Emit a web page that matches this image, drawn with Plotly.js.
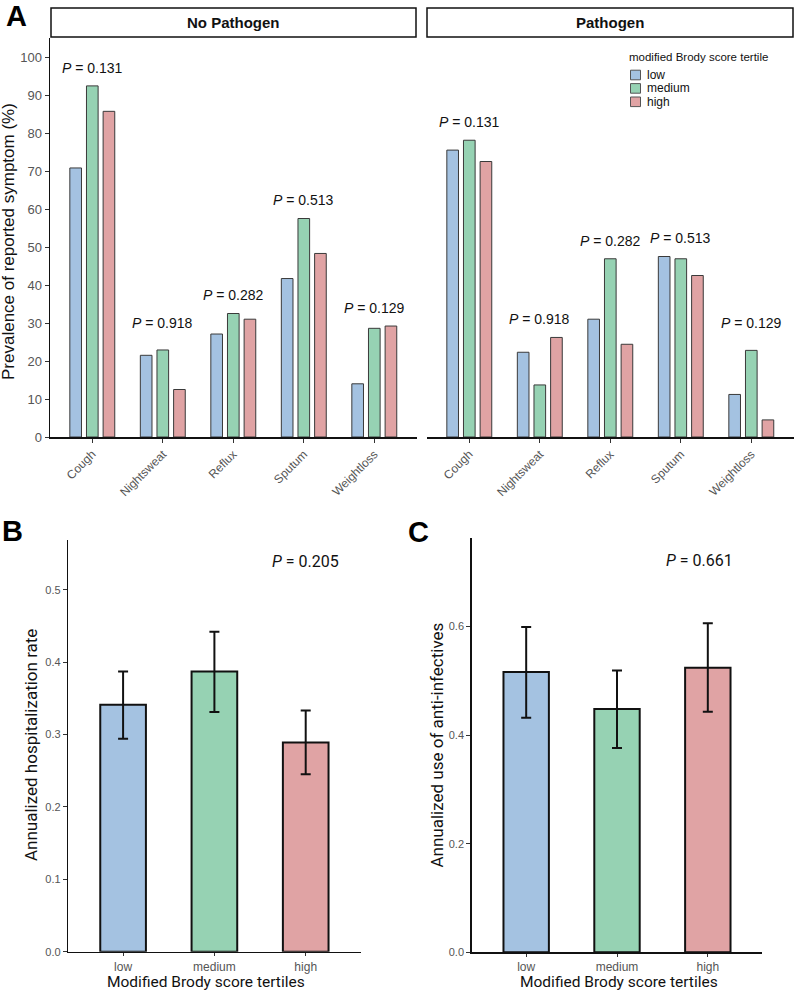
<!DOCTYPE html>
<html>
<head>
<meta charset="utf-8">
<script src="https://cdn.plot.ly/plotly-3.0.1.min.js"></script>
<style>html,body{margin:0;padding:0;background:#fff;}#chart{width:794px;height:992px;}</style>
</head>
<body>
<div id="chart"></div>
<script>
// ---------- data ----------
const symptoms = ['Cough', 'Nightsweat', 'Reflux', 'Sputum', 'Weightloss'];
const tertiles = ['low', 'medium', 'high'];
const facetNames = ['No Pathogen', 'Pathogen'];

const noPathLow    = [70.8, 21.5, 27.1, 41.7, 14.0];
const noPathMedium = [92.4, 22.9, 32.5, 57.5, 28.6];
const noPathHigh   = [85.7, 12.5, 31.0, 48.3, 29.2];

const pathLow    = [75.5, 22.3, 31.0, 47.5, 11.2];
const pathMedium = [78.1, 13.7, 46.9, 46.9, 22.8];
const pathHigh   = [72.5, 26.2, 24.4, 42.5, 4.5];

const symptomP = ['0.131', '0.918', '0.282', '0.513', '0.129'];

const hospRate  = [0.341, 0.387, 0.289];
const hospUpper = [0.387, 0.442, 0.333];
const hospLower = [0.294, 0.331, 0.245];
const hospP = '0.205';

const antiUse   = [0.516, 0.448, 0.524];
const antiUpper = [0.599, 0.519, 0.606];
const antiLower = [0.432, 0.376, 0.443];
const antiP = '0.661';

// ---------- styling ----------
const W = 794, H = 992;
const px = v => v / W;
const py = v => 1 - v / H;
const colors = ['#a4c2e1', '#96d2b3', '#e0a3a4'];
const fontA = 'Liberation Sans, Arial, Helvetica, sans-serif';
const fontR = 'Roboto, Liberation Sans, Arial, sans-serif';
const tickGrey = '#555555';

const noPathSeries = [noPathLow, noPathMedium, noPathHigh];
const pathSeries = [pathLow, pathMedium, pathHigh];

const traces = [];
tertiles.forEach((t, i) => {
  traces.push({type: 'bar', x: symptoms, y: noPathSeries[i], name: t, xaxis: 'x', yaxis: 'y',
    marker: {color: colors[i], line: {color: '#3a3a3a', width: 1}}, showlegend: false});
});
tertiles.forEach((t, i) => {
  traces.push({type: 'bar', x: symptoms, y: pathSeries[i], name: t, xaxis: 'x2', yaxis: 'y2',
    marker: {color: colors[i], line: {color: '#3a3a3a', width: 1}}, showlegend: false});
});
const errStyle = {color: '#111', thickness: 2, width: 5};
traces.push({type: 'bar', x: tertiles, y: hospRate, xaxis: 'x3', yaxis: 'y3', width: 0.5,
  marker: {color: colors, line: {color: '#111', width: 2}}, showlegend: false,
  error_y: Object.assign({type: 'data', symmetric: false,
    array: hospUpper.map((u, i) => u - hospRate[i]),
    arrayminus: hospLower.map((l, i) => hospRate[i] - l)}, errStyle)});
traces.push({type: 'bar', x: tertiles, y: antiUse, xaxis: 'x4', yaxis: 'y4', width: 0.5,
  marker: {color: colors, line: {color: '#111', width: 2}}, showlegend: false,
  error_y: Object.assign({type: 'data', symmetric: false,
    array: antiUpper.map((u, i) => u - antiUse[i]),
    arrayminus: antiLower.map((l, i) => antiUse[i] - l)}, errStyle)});

const baseX = {type: 'category', showgrid: false, zeroline: false, showline: true, linecolor: '#111',
  linewidth: 1.5, ticks: 'outside', ticklen: 4, tickcolor: '#333', tickwidth: 1, fixedrange: true};
const baseY = {showgrid: false, zeroline: false, showline: true, linecolor: '#111', linewidth: 1.5,
  ticks: 'outside', ticklen: 4, tickcolor: '#333', tickwidth: 1, fixedrange: true};

const yA = [437, 38];
const layout = {
  width: W, height: H,
  margin: {l: 0, r: 0, t: 0, b: 0},
  paper_bgcolor: '#fff', plot_bgcolor: 'rgba(0,0,0,0)',
  showlegend: false, hovermode: false,
  barmode: 'group', bargap: 0.292, bargroupgap: 0.3,
  font: {family: fontA, color: '#111'},
  xaxis: Object.assign({}, baseX, {domain: [px(50), px(416.6)], anchor: 'y', range: [-0.6, 4.6],
    tickangle: -45, tickfont: {family: fontA, size: 12, color: tickGrey}}),
  yaxis: Object.assign({}, baseY, {domain: [py(yA[0]), py(yA[1])], anchor: 'x', range: [0, 105],
    tick0: 0, dtick: 10, tickfont: {family: fontA, size: 13, color: tickGrey}}),
  xaxis2: Object.assign({}, baseX, {domain: [px(427), px(793.6)], anchor: 'y2', range: [-0.6, 4.6],
    tickangle: -45, tickfont: {family: fontA, size: 12, color: tickGrey}}),
  yaxis2: {domain: [py(yA[0]), py(yA[1])], anchor: 'x2', range: [0, 105], showline: false,
    showticklabels: false, ticks: '', showgrid: false, zeroline: false, fixedrange: true},
  xaxis3: Object.assign({}, baseX, {domain: [px(68.3), px(360.5)], anchor: 'y3', range: [-0.6, 2.6],
    ticklen: 3, tickfont: {family: fontA, size: 12, color: tickGrey}}),
  yaxis3: Object.assign({}, baseY, {domain: [py(951.7), py(540)], anchor: 'x3', range: [0, 0.5686],
    tickvals: [0, 0.1, 0.2, 0.3, 0.4, 0.5], tickformat: '.1f', tickfont: {family: fontA, size: 11, color: tickGrey}}),
  xaxis4: Object.assign({}, baseX, {domain: [px(471.7), px(762.3)], anchor: 'y4', range: [-0.6, 2.6],
    ticklen: 3, tickfont: {family: fontA, size: 12, color: tickGrey}}),
  yaxis4: Object.assign({}, baseY, {domain: [py(952.3), py(538.3)], anchor: 'x4', range: [0, 0.7624],
    tickvals: [0, 0.2, 0.4, 0.6], tickformat: '.1f', tickfont: {family: fontA, size: 11, color: tickGrey}}),
  shapes: [],
  annotations: []
};

// facet strips
const strips = [[51, 416], [427, 793]];
strips.forEach((s, i) => {
  layout.shapes.push({type: 'rect', xref: 'paper', yref: 'paper', x0: px(s[0]), x1: px(s[1]),
    y0: py(37), y1: py(8), line: {color: '#111', width: 1.5}, fillcolor: '#fff'});
  layout.annotations.push({xref: 'paper', yref: 'paper', x: px((s[0] + s[1]) / 2), y: py(22.5),
    text: '<b>' + facetNames[i] + '</b>', showarrow: false, xanchor: 'center', yanchor: 'middle',
    font: {family: fontA, size: 15, color: '#111'}});
});

// P-value labels in panel A
[[noPathSeries, 'x', 'y'], [pathSeries, 'x2', 'y2']].forEach(([series, xr, yr]) => {
  symptoms.forEach((s, j) => {
    const m = Math.max(series[0][j], series[1][j], series[2][j]);
    layout.annotations.push({xref: xr, yref: yr, x: s, y: Math.max(m + 4.8, 30),
      text: '<i>P</i> = ' + symptomP[j], showarrow: false, xanchor: 'center', yanchor: 'middle',
      font: {family: fontA, size: 14, color: '#111'}});
  });
});

// manual legend (panel A)
layout.annotations.push({xref: 'paper', yref: 'paper', x: px(627), y: py(57),
  text: 'modified Brody score tertile', showarrow: false, xanchor: 'left', yanchor: 'middle',
  font: {family: fontA, size: 11.5, color: '#111'}});
tertiles.forEach((t, i) => {
  const cy = 75 + i * 13.4;
  layout.shapes.push({type: 'rect', xref: 'paper', yref: 'paper', x0: px(630.5), x1: px(640.5),
    y0: py(cy + 4.8), y1: py(cy - 4.8), fillcolor: colors[i], line: {color: '#555', width: 1}});
  layout.annotations.push({xref: 'paper', yref: 'paper', x: px(645), y: py(cy),
    text: t, showarrow: false, xanchor: 'left', yanchor: 'middle',
    font: {family: fontA, size: 12, color: '#111'}});
});

// axis titles
layout.annotations.push({xref: 'paper', yref: 'paper', x: px(9), y: py(242), textangle: -90,
  text: 'Prevalence of reported symptom (%)', showarrow: false, xanchor: 'center', yanchor: 'middle',
  font: {family: fontA, size: 17, color: '#111'}});
layout.annotations.push({xref: 'paper', yref: 'paper', x: px(31), y: py(745), textangle: -90,
  text: 'Annualized hospitalization rate', showarrow: false, xanchor: 'center', yanchor: 'middle',
  font: {family: fontR, size: 17, color: '#111'}});
layout.annotations.push({xref: 'paper', yref: 'paper', x: px(436.5), y: py(745), textangle: -90,
  text: 'Annualized use of anti-infectives', showarrow: false, xanchor: 'center', yanchor: 'middle',
  font: {family: fontR, size: 17, color: '#111'}});
layout.annotations.push({xref: 'paper', yref: 'paper', x: px(206), y: py(982),
  text: 'Modified Brody score tertiles', showarrow: false, xanchor: 'center', yanchor: 'middle',
  font: {family: fontR, size: 15.5, color: '#111'}});
layout.annotations.push({xref: 'paper', yref: 'paper', x: px(618.5), y: py(982),
  text: 'Modified Brody score tertiles', showarrow: false, xanchor: 'center', yanchor: 'middle',
  font: {family: fontR, size: 15.5, color: '#111'}});

// P labels B, C
layout.annotations.push({xref: 'x3', yref: 'paper', x: 'high', y: py(561.5),
  text: '<i>P</i> = ' + hospP, showarrow: false, xanchor: 'center', yanchor: 'middle',
  font: {family: fontR, size: 16, color: '#111'}});
layout.annotations.push({xref: 'x4', yref: 'paper', x: 'high', y: py(560), xshift: -8,
  text: '<i>P</i> = ' + antiP, showarrow: false, xanchor: 'center', yanchor: 'middle',
  font: {family: fontR, size: 16, color: '#111'}});

// panel letters
[['A', 16, 16], ['B', 12, 531], ['C', 418.5, 532]].forEach(([l, x, y]) => {
  layout.annotations.push({xref: 'paper', yref: 'paper', x: px(x), y: py(y), text: '<b>' + l + '</b>',
    showarrow: false, xanchor: 'center', yanchor: 'middle', font: {family: fontA, size: 29, color: '#000'}});
});

Plotly.newPlot('chart', traces, layout, {staticPlot: true, displayModeBar: false});
</script>
</body>
</html>
